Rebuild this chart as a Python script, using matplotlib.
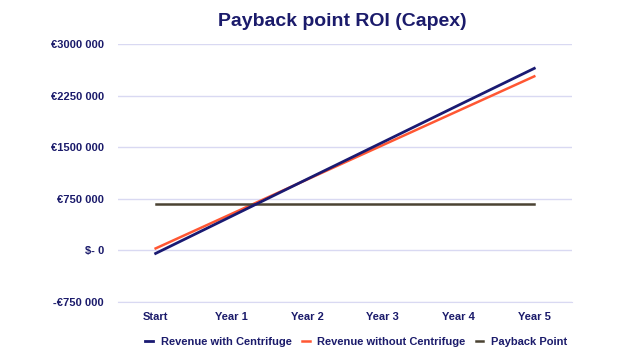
import matplotlib
matplotlib.use("Agg")
import matplotlib.pyplot as plt

plt.rcParams['font.family'] = ['Liberation Sans', 'DejaVu Sans']

categories = ["Start", "Year 1", "Year 2", "Year 3", "Year 4", "Year 5"]
with_centrifuge = [-44000, 495000, 1035000, 1572000, 2110000, 2645000]
without_centrifuge = [29000, 530000, 1030000, 1530000, 2030000, 2529000]
payback = [669000] * 6

y_ticks = [-750000, 0, 750000, 1500000, 2250000, 3000000]
y_labels = ["-€750 000", "$- 0", "€750 000", "€1500 000", "€2250 000", "€3000 000"]

navy = "#1b1b6b"

fig = plt.figure(figsize=(6.4, 3.6), dpi=100)
ax = fig.add_axes([0.184, 0.161, 0.710, 0.717])

x = range(len(categories))
ax.plot(x, with_centrifuge, color="#1a1a72", lw=2, label="Revenue with Centrifuge", zorder=3)
ax.plot(x, without_centrifuge, color="#ff5733", lw=1.8, label="Revenue without Centrifuge", zorder=2)
ax.plot(x, payback, color="#4b4333", lw=1.8, label="Payback Point", zorder=2)

ax.set_xlim(-0.5, 5.5)
ax.set_ylim(-750000, 3000000)
ax.set_yticks(y_ticks)
ax.set_yticklabels(y_labels)
ax.set_xticks(list(x))
ax.set_xticklabels(categories)

ax.grid(axis='y', color="#d9d9f2", lw=1)
ax.set_axisbelow(True)
for s in ["top", "right", "left"]:
    ax.spines[s].set_visible(False)
ax.spines["bottom"].set_color("#d9d9f2")
ax.tick_params(axis='y', length=0, pad=10, labelsize=8, labelcolor=navy)
ax.tick_params(axis='x', length=0, pad=7, labelsize=8, labelcolor=navy)
for lbl in ax.get_xticklabels() + ax.get_yticklabels():
    lbl.set_fontweight('bold')

fig.suptitle("Payback point ROI (Capex)", x=0.535, y=0.965, fontsize=14,
             fontweight='bold', color=navy)

leg = ax.legend(loc="upper center", bbox_to_anchor=(0.525, -0.095), ncol=3,
                frameon=False, handlelength=0.7, columnspacing=0.9,
                handletextpad=0.7, prop={'weight': 'bold', 'size': 8})
for t in leg.get_texts():
    t.set_color(navy)

fig.savefig("out.png", dpi=100)
